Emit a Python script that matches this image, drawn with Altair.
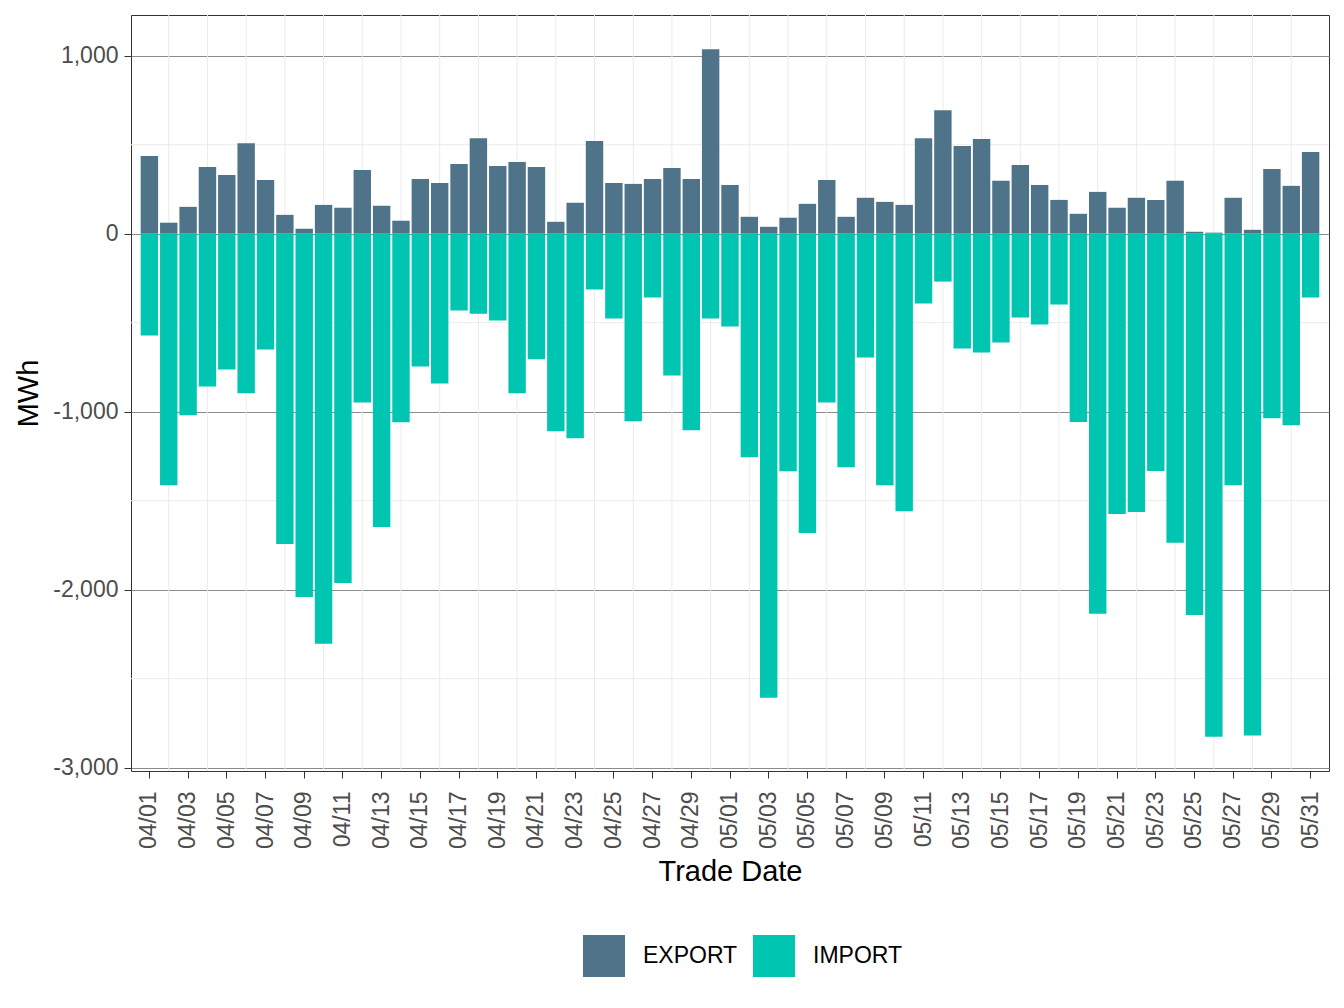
import altair as alt
import pandas as pd

dates = [f"04/{d:02d}" for d in range(1, 31)] + [f"05/{d:02d}" for d in range(1, 32)]

export_mwh = [437, 62, 151, 375, 330, 509, 302, 106, 28, 162,
              146, 358, 157, 73, 308, 285, 392, 537, 381, 403,
              375, 67, 174, 521, 285, 280, 308, 369, 308, 1036,
              274, 95, 39, 90, 168, 302, 95, 202, 179, 162,
              537, 694, 493, 532, 297, 386, 274, 190, 112, 235,
              146, 202, 190, 297, 11, 6, 202, 22, 364, 269, 459]

import_mwh = [-572, -1413, -1020, -858, -763, -897, -650, -1744, -2041, -2304,
              -1962, -948, -1648, -1060, -746, -841, -432, -449, -488, -897,
              -706, -1110, -1149, -314, -477, -1054, -359, -796, -1105, -477,
              -521, -1256, -2607, -1334, -1682, -948, -1312, -695, -1413, -1559,
              -392, -269, -645, -667, -611, -471, -510, -398, -1058, -2136,
              -1575, -1563, -1333, -1737, -2142, -2826, -1413, -2820, -1037, -1076, -359]

series = ["EXPORT", "IMPORT"]
colors = ["#4F7489", "#00C6B1"]

tick_dates = dates[0::2]
minor_x = dates[1::2]
major_y = [1000, 0, -1000, -2000, -3000]
minor_y = [500, -500, -1500, -2500]
y_domain = [-3019, 1229]

FONT = "Liberation Sans"

bars_df = pd.DataFrame({
    "date": dates * 2,
    "type": ["EXPORT"] * len(dates) + ["IMPORT"] * len(dates),
    "mwh": export_mwh + import_mwh,
})

x_scale = alt.Scale(paddingInner=0.1, paddingOuter=0.5)
y_scale = alt.Scale(domain=y_domain, nice=False, zero=False)

x_axis = alt.Axis(values=tick_dates, labelAngle=270, grid=False,
                  labelPadding=13, titlePadding=9)
y_axis = alt.Axis(values=major_y, grid=True, gridColor="#8c8c8c",
                  gridWidth=1, labelPadding=6, titlePadding=9,
                  labelExpr="(datum.value < 0 ? '-' : '') + format(abs(datum.value), ',')")

vgrid = alt.Chart(pd.DataFrame({"date": minor_x})).mark_rule(
    color="#ebebeb", strokeWidth=1
).encode(
    x=alt.X("date:N", sort=dates, scale=x_scale, axis=x_axis, title="Trade Date")
)

hgrid = alt.Chart(pd.DataFrame({"mwh": minor_y})).mark_rule(
    color="#ebebeb", strokeWidth=1
).encode(
    y=alt.Y("mwh:Q", scale=y_scale, axis=y_axis, title="MWh")
)

bars = alt.Chart(bars_df).mark_bar().encode(
    x=alt.X("date:N", sort=dates, scale=x_scale, axis=x_axis, title="Trade Date"),
    y=alt.Y("mwh:Q", stack=None, scale=y_scale, axis=y_axis, title="MWh"),
    color=alt.Color("type:N", scale=alt.Scale(domain=series, range=colors),
                    legend=alt.Legend(title=None, orient="none", direction="horizontal",
                                      legendX=452, legendY=920,
                                      symbolType="square", symbolSize=1764,
                                      symbolStrokeWidth=0, symbolOpacity=1,
                                      labelFontSize=23, labelColor="black",
                                      labelFont=FONT, labelOffset=18,
                                      columnPadding=15, padding=0)),
)

chart = alt.layer(vgrid, hgrid, bars).properties(
    width=1198, height=756,
    background="white",
    autosize=alt.AutoSizeParams(type="none"),
    padding={"left": 123, "top": 7, "right": 7, "bottom": 221},
).configure_view(
    stroke="#333333", strokeWidth=1
).configure_axis(
    labelFont=FONT, titleFont=FONT,
    labelFontSize=23, titleFontSize=29,
    labelColor="#4d4d4d", titleColor="black",
    titleFontWeight="normal",
    domain=False, tickColor="#333333", tickSize=7, tickWidth=1,
)

chart.save("out.html", embed_options={"renderer": "svg", "actions": False})
